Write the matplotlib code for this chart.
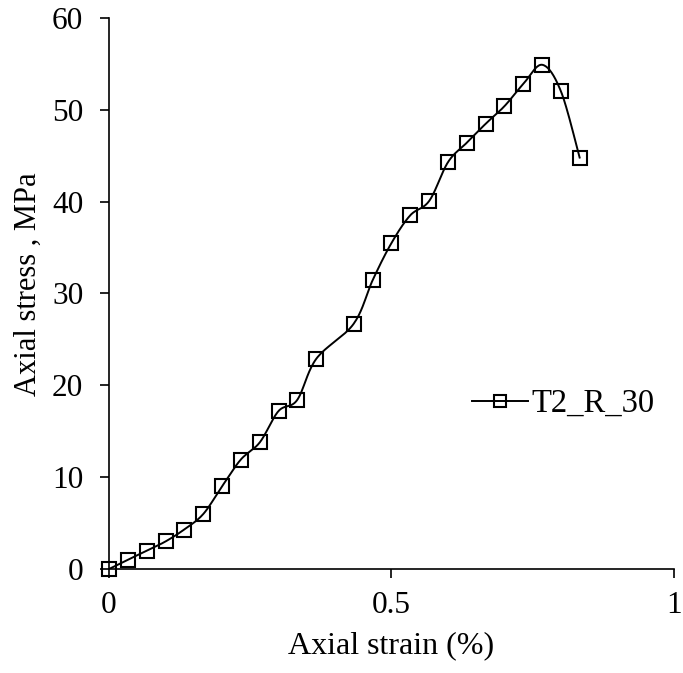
import numpy as np
import matplotlib
matplotlib.use("Agg")
import matplotlib.pyplot as plt
from matplotlib.lines import Line2D

plt.rcParams['font.family'] = ['Liberation Serif', 'DejaVu Serif']

# data
strain = [0.0, 0.033, 0.067, 0.1, 0.133, 0.167, 0.2, 0.233, 0.267, 0.3,
          0.333, 0.367, 0.433, 0.467, 0.5, 0.533, 0.567, 0.6, 0.633, 0.667,
          0.7, 0.733, 0.767, 0.8, 0.833]
stress = [0.0, 1.0, 2.0, 3.0, 4.3, 6.0, 9.0, 11.9, 13.8, 17.2,
          18.4, 22.9, 26.7, 31.5, 35.5, 38.5, 40.1, 44.3, 46.4, 48.5,
          50.4, 52.8, 54.9, 52.0, 44.8]
series_name = 'T2_R_30'
xticks = [0, 0.5, 1]
xticklabels = ['0', '0.5', '1']
yticks = [0, 10, 20, 30, 40, 50, 60]


def smooth(x, y, n=20):
    # Catmull-Rom style smoothing, like a spreadsheet "smoothed line"
    x = np.asarray(x, float); y = np.asarray(y, float)
    px = np.concatenate([[x[0]], x, [x[-1]]])
    py = np.concatenate([[y[0]], y, [y[-1]]])
    ox, oy = [], []
    t = np.linspace(0, 1, n, endpoint=False)
    for i in range(1, len(px) - 2):
        for P, out in ((px[i-1:i+3], ox), (py[i-1:i+3], oy)):
            a, b, c, d = P
            out.extend(0.5 * ((2*b) + (-a + c)*t + (2*a - 5*b + 4*c - d)*t**2
                              + (-a + 3*b - 3*c + d)*t**3))
    ox.append(x[-1]); oy.append(y[-1])
    return np.array(ox), np.array(oy)


fig = plt.figure(figsize=(6.83, 6.73), dpi=100)
# axes box in figure fractions (x: 109..674 px, y: 18..569 px)
ax = fig.add_axes([0.1596, 0.1545, 0.8272, 0.8188])

sx, sy = smooth(strain, stress)
ax.plot(sx, sy, color='black', lw=1.4, zorder=2)
ax.plot(strain, stress, ls='none', marker='s', ms=10, mfc='none',
        mec='black', mew=1.5, zorder=3, clip_on=False)

ax.set_xlim(0, 1)
ax.set_ylim(0, 60)
ax.set_xticks(xticks)
ax.set_xticklabels(xticklabels)
ax.set_yticks(yticks)
ax.tick_params(labelsize=22.5, direction='out', length=6.5, width=1.2)
ax.tick_params(axis='y', pad=12)
ax.tick_params(axis='x', pad=9.5)
ax.spines['top'].set_visible(False)
ax.spines['right'].set_visible(False)
ax.spines['left'].set_linewidth(1.2)
ax.spines['bottom'].set_linewidth(1.2)
ax.set_xlabel('Axial strain (%)', fontsize=23, labelpad=8)
ax.set_ylabel('Axial stress , MPa', fontsize=22)
ax.yaxis.set_label_coords(-0.118, 0.517)

handle = Line2D([], [], color='black', lw=1.4, marker='s', ms=8.5,
                mfc='none', mec='black', mew=1.5)
ax.legend([handle], [series_name], loc='center left',
          bbox_to_anchor=(0.62, 0.30), frameon=False, fontsize=23.5,
          handlelength=1.7, handletextpad=0.1, borderaxespad=0)

fig.savefig('out.png', dpi=100)
